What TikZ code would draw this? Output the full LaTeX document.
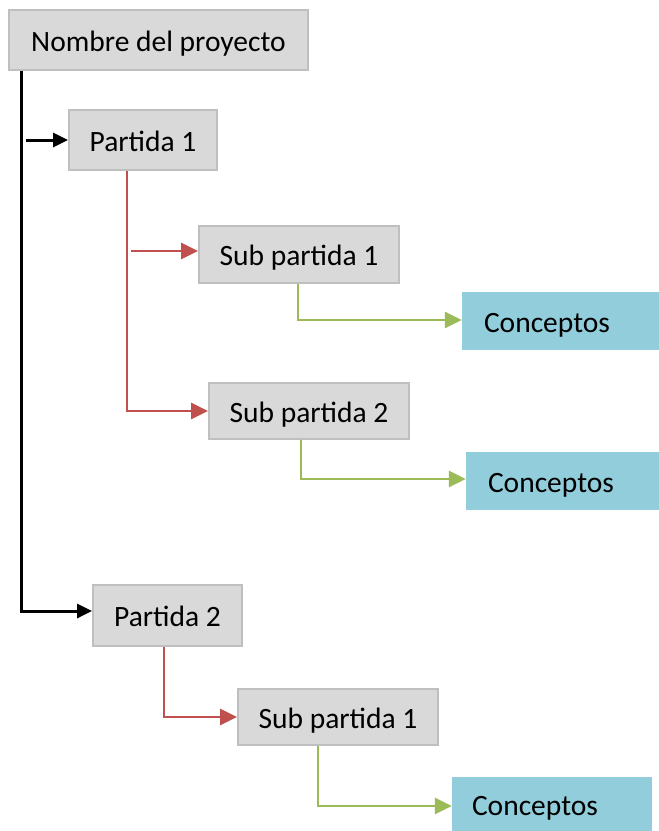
\documentclass[tikz,border=0pt]{standalone}
\usepackage{fontspec}
\setmainfont{Carlito}
\usetikzlibrary{arrows.meta}
\definecolor{boxgray}{HTML}{D9D9D9}
\definecolor{boxedge}{HTML}{BFBFBF}
\definecolor{cblue}{HTML}{92CDDC}
\definecolor{cred}{HTML}{C0504D}
\definecolor{cgreen}{HTML}{9BBB59}
\newcommand{\lowtxt}[2][-11pt]{\raisebox{#1}[0pt][0pt]{#2}}
\tikzset{
  graybox/.style={draw=boxedge, line width=1.8pt, fill=boxgray, inner sep=0pt, font=\fontsize{29.5}{34}\selectfont},
  concept/.style={fill=cblue, inner ysep=0pt, inner xsep=22pt, text width=#1, align=left, font=\fontsize{29.5}{34}\selectfont},
  blkarrow/.style={line width=3pt, black, -{Triangle[length=15pt,width=14pt]}},
  redarrow/.style={line width=2.6pt, cred, -{Triangle[length=17pt,width=16pt]}},
  grnarrow/.style={line width=2.8pt, cgreen, -{Triangle[length=17pt,width=16pt]}},
}
\begin{document}
\begin{tikzpicture}[x=1pt,y=-1pt]
\useasboundingbox (0,0) rectangle (659,831);
\node[graybox, minimum width=299pt, minimum height=60pt] (n) at (158.5,40) {\lowtxt{Nombre del proyecto}};
\node[graybox, minimum width=148pt, minimum height=60pt] (p1) at (143,140) {\lowtxt{Partida 1}};
\node[graybox, minimum width=200pt, minimum height=57pt] (sp1) at (299,254.5) {\lowtxt{Sub partida 1}};
\node[graybox, minimum width=200pt, minimum height=56pt] (sp2) at (309,411) {\lowtxt{Sub partida 2}};
\node[graybox, minimum width=149pt, minimum height=61pt] (p2) at (167.5,615.5) {\lowtxt{Partida 2}};
\node[graybox, minimum width=200pt, minimum height=56pt] (sp3) at (338,717) {\lowtxt{Sub partida 1}};
\node[concept=153pt, minimum height=58pt] (c1) at (560.5,321) {\lowtxt[-11.5pt]{Conceptos}};
\node[concept=149pt, minimum height=58pt] (c2) at (562.5,481) {\lowtxt[-11.5pt]{Conceptos}};
\node[concept=160pt, inner xsep=20pt, minimum height=54pt] (c3) at (552,804) {\lowtxt[-11.5pt]{Conceptos}};
% black
\coordinate (b1) at (26,140);
\draw[blkarrow] ([xshift=13pt]n.south west) |- ([yshift=4.5pt]p2.west);
\draw[blkarrow] (b1) -- (p1.west);
% red
\coordinate (r1) at (131,251);
\draw[redarrow] ([xshift=59pt]p1.south west) |- (sp2.west);
\draw[redarrow] (r1) -- (r1 -| sp1.west);
\draw[redarrow] ([xshift=-3.5pt]p2.south) |- (sp3.west);
% green
\draw[grnarrow] ([xshift=-1pt]sp1.south) |- ([yshift=1pt]c1.west);
\draw[grnarrow] ([xshift=-8pt]sp2.south) |- ([yshift=2pt]c2.west);
\draw[grnarrow] ([xshift=-20pt]sp3.south) |- ([yshift=-2pt]c3.west);
\end{tikzpicture}
\end{document}
